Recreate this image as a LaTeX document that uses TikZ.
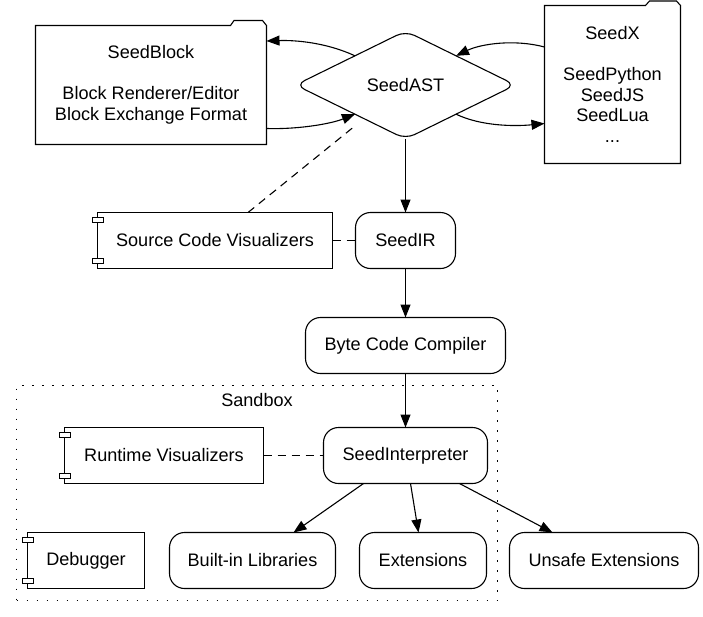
\documentclass[tikz,border=0pt]{standalone}
\usepackage{fontspec}
\setmainfont{Liberation Sans}
\usetikzlibrary{shapes.geometric,arrows.meta,calc}
\newcommand\comptabs[1]{%
  \draw[fill=white,line width=0.9pt] ($(#1.north west)+(-5.5,5)$) rectangle +(11,5);
  \draw[fill=white,line width=0.9pt] ($(#1.south west)+(-5.5,-10)$) rectangle +(11,5);}
\begin{document}
\begin{tikzpicture}[x=1pt,y=-1pt,line width=1.1pt,
  every node/.style={font=\fontsize{18.1}{20.5}\selectfont,inner sep=0pt,outer sep=0pt},
  rbox/.style={draw,rounded corners=15pt,minimum height=56pt},
  comp/.style={draw,minimum height=56pt},
  folder/.style={align=center},
  arr/.style={-{Triangle[length=13pt,width=10pt]}},
  dashline/.style={dash pattern=on 8pt off 6pt},
  dotline/.style={line width=1.3pt,dash pattern=on 1.5pt off 8.5pt}]
\useasboundingbox (0,0) rectangle (703,616);
% folders
\node[folder,minimum width=231pt,minimum height=119pt] (sb) at (151,85)
  {SeedBlock\\[20.5pt]Block Renderer/Editor\\Block Exchange Format};
\draw (sb.north west) -- ($(sb.north east)+(-36,0)$) -- ($(sb.north east)+(-32.5,-5)$)
  -- ($(sb.north east)+(-4,-5)$) -- (sb.north east) -- (sb.south east) -- (sb.south west) -- cycle;
\node[folder,minimum width=136pt,minimum height=158pt] (sx) at (612.5,84.5)
  {SeedX\\[20.5pt]SeedPython\\SeedJS\\SeedLua\\...};
\draw (sx.north west) -- ($(sx.north east)+(-35,0)$) -- ($(sx.north east)+(-31,-4.5)$)
  -- ($(sx.north east)+(-4,-4.5)$) -- (sx.north east) -- (sx.south east) -- (sx.south west) -- cycle;
% diamond
\node[diamond,draw,rounded corners=10pt,minimum width=220pt,minimum height=108pt] (ast) at (405.5,85) {SeedAST};
% main chain
\node[rbox,minimum width=100pt] (ir) at (405.5,240.5) {SeedIR};
\node[comp,minimum width=235pt] (scv) at (215,240.5) {Source Code Visualizers};
\node[rbox,minimum width=200pt] (bcc) at (405.5,345.5) {Byte Code Compiler};
% sandbox
\node[draw,dotline,minimum width=481pt,minimum height=215pt] (sandbox) at (257,493) {};
\node (sblabel) at (257,400) {Sandbox};
\node[rbox,minimum width=164pt] (si) at (405.5,455.5) {SeedInterpreter};
\node[comp,minimum width=199pt] (rv) at (164,455.5) {Runtime Visualizers};
\node[comp,minimum width=117pt] (dbg) at (86,560.5) {Debugger};
\node[rbox,minimum width=166pt] (bl) at (252.5,560.5) {Built-in Libraries};
\node[rbox,minimum width=127pt] (ext) at (423,560.5) {Extensions};
\node[rbox,minimum width=189pt] (ux) at (604,560.5) {Unsafe Extensions};
\comptabs{scv}
\comptabs{rv}
\comptabs{dbg}
% curved arrows
\draw[arr] (ast.150) .. controls +(-28,-13) and +(30,-1) .. ($(sb.north east)+(0,15.5)$);
\draw[arr] ($(sb.south east)+(0,-16)$) .. controls +(30,1) and +(-25,10) .. (ast.210);
\draw[arr] ($(sx.north west)+(0,41.5)$) .. controls +(-30,-8) and +(25,-12) .. (ast.30);
\draw[arr] (ast.-30) .. controls +(25,12) and +(-30,3) .. ($(sx.north west)+(0,118)$);
% straight arrows
\draw[arr] (ast.south) -- (ir.north);
\draw[arr] (ir.south) -- (bcc.north);
\draw[arr] (bcc.south) -- (si.north);
\draw[arr] ($(si.south)+(-42,0)$) -- ($(bl.north)+(41,0)$);
\draw[arr] ($(si.south)+(5,0)$) -- ($(ext.north)+(-4.5,0)$);
\draw[arr] ($(si.south)+(54,0)$) -- ($(ux.north)+(-51.5,0)$);
% dashed links
\draw[dashline,shorten >=10pt] ($(scv.north)+(33,0)$) -- (ast);
\draw[dashline] (scv) -- (ir);
\draw[dashline] (rv) -- (si);
\end{tikzpicture}
\end{document}
